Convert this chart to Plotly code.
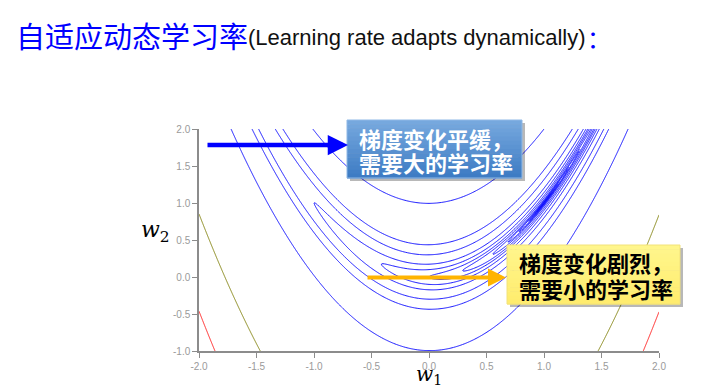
import numpy as np
import plotly.graph_objects as go

# ---------------- data ----------------
w1_range = [-2.0, 2.0]
w2_range = [-1.0, 2.0]
x_tick_vals = [-2.0, -1.5, -1.0, -0.5, 0.0, 0.5, 1.0, 1.5, 2.0]
x_tick_text = ["-2.0", "-1.5", "-1.0", "-0.5", "0.0", "0.5", "1.0", "1.5", "2.0"]
y_tick_vals = [-1.0, -0.5, 0.0, 0.5, 1.0, 1.5, 2.0]
y_tick_text = ["-1.0", "-0.5", "0.0", "0.5", "1.0", "1.5", "2.0"]
# contour levels of the loss surface and their colours
blue_levels = [0.002, 0.005, 0.01, 0.02, 0.05, 0.1, 0.2, 0.5, 1, 2, 4, 10, 20, 100]
olive_levels = [1000]
red_levels = [2000]
title_cn = "自适应动态学习率"
title_en = "(Learning rate adapts dynamically)"
note_flat = ["梯度变化平缓，", "需要大的学习率"]
note_steep = ["梯度变化剧烈，", "需要小的学习率"]


def loss(a, b):
    # Rosenbrock-shaped loss surface shown in the chart
    return (1 - a) ** 2 + 100 * (b - a ** 2) ** 2


xs = np.linspace(w1_range[0], w1_range[1], 501)
ys = np.linspace(w2_range[0], w2_range[1], 376)
XX, YY = np.meshgrid(xs, ys)
Z = loss(XX, YY)

W, H = 715, 387
OFF = 8  # page margin of the html body
# plot area in page pixels
PL, PT, PR, PB = 199, 129, 659, 351
PW, PH = PR - PL, PB - PT
ML, MT = PL - OFF, PT - OFF
MR, MB = W - (PR - OFF), H - (PB - OFF)


def px(x):
    return (x - PL) / PW


def py(y):
    return (PB - y) / PH


def dx(x):
    return w1_range[0] + (x - PL) / PW * (w1_range[1] - w1_range[0])


def dy(y):
    return w2_range[1] - (y - PT) / PH * (w2_range[1] - w2_range[0])


fig = go.Figure()

groups = [(blue_levels, "#1010ff"), (olive_levels, "#868614"), (red_levels, "#ff2020")]
for levels, col in groups:
    for lv in levels:
        fig.add_trace(go.Contour(
            x=xs, y=ys, z=Z,
            contours=dict(start=lv, end=lv, size=1, coloring="lines"),
            colorscale=[[0, col], [1, col]],
            line=dict(width=1),
            showscale=False, hoverinfo="skip",
        ))

shapes = []


def gradient_box(x0, y0, x1, y1, top, bot, n=14, border=None):
    shapes.append(dict(type="rect", xref="paper", yref="paper",
                       x0=px(x0 + 3), x1=px(x1 + 3), y0=py(y0 + 3), y1=py(y1 + 3),
                       fillcolor="rgba(0,0,0,0.28)", line=dict(width=0), layer="above"))
    for i in range(n):
        t = i / (n - 1)
        c = tuple(int(round(top[k] + (bot[k] - top[k]) * t)) for k in range(3))
        ya = y0 + (y1 - y0) * i / n
        yb = y0 + (y1 - y0) * (i + 1) / n
        shapes.append(dict(type="rect", xref="paper", yref="paper",
                           x0=px(x0), x1=px(x1), y0=py(ya), y1=py(yb + 0.5),
                           fillcolor="rgb(%d,%d,%d)" % c, line=dict(width=0), layer="above"))
    if border:
        shapes.append(dict(type="rect", xref="paper", yref="paper",
                           x0=px(x0), x1=px(x1), y0=py(y0), y1=py(y1),
                           line=dict(color=border, width=1), layer="above"))


gradient_box(347, 120, 522, 178, (118, 168, 222), (62, 124, 196), border="#8fb8e6")
gradient_box(507, 245, 680, 304, (255, 246, 140), (255, 236, 110), border="#f2e27a")

ann = []
# title
ann.append(dict(xref="paper", yref="paper", x=px(14), y=py(35), xanchor="left", yanchor="middle",
                text=title_cn, showarrow=False,
                font=dict(family="Noto Sans CJK SC", size=29, color="#0000ff")))
ann.append(dict(xref="paper", yref="paper", x=px(246), y=py(37), xanchor="left", yanchor="middle",
                text=title_en, showarrow=False,
                font=dict(family="Liberation Sans", size=22, color="#111111")))
ann.append(dict(xref="paper", yref="paper", x=px(585), y=py(37), xanchor="left", yanchor="middle",
                text="：", showarrow=False,
                font=dict(family="Noto Sans CJK SC", size=24, color="#0000ff")))
# box texts
for t, yy in zip(note_flat, [138, 162]):
    ann.append(dict(xref="paper", yref="paper", x=px(357), y=py(yy), xanchor="left", yanchor="middle",
                    text="<b>%s</b>" % t, showarrow=False,
                    font=dict(family="Noto Sans CJK SC", size=22, color="white")))
for t, yy in zip(note_steep, [262, 288]):
    ann.append(dict(xref="paper", yref="paper", x=px(517), y=py(yy), xanchor="left", yanchor="middle",
                    text="<b>%s</b>" % t, showarrow=False,
                    font=dict(family="Noto Sans CJK SC", size=22, color="black")))
# arrows
ann.append(dict(xref="x", yref="y", axref="x", ayref="y",
                x=dx(348), y=dy(145), ax=dx(206), ay=dy(145), text="", showarrow=True,
                arrowhead=2, arrowsize=0.9, arrowwidth=4.5, arrowcolor="#0000ff", standoff=0))
ann.append(dict(xref="x", yref="y", axref="x", ayref="y",
                x=dx(506), y=dy(277.5), ax=dx(366), ay=dy(277.5), text="", showarrow=True,
                arrowhead=2, arrowsize=0.9, arrowwidth=4, arrowcolor="#ffb400", standoff=0))
# axis titles
ann.append(dict(xref="paper", yref="paper", x=px(155), y=py(231), xanchor="center", yanchor="middle",
                text="<i>w</i><sub>2</sub>", showarrow=False,
                font=dict(family="DejaVu Serif", size=22, color="black")))
ann.append(dict(xref="paper", yref="paper", x=px(429), y=py(375), xanchor="center", yanchor="middle",
                text="<i>w</i><sub>1</sub>", showarrow=False,
                font=dict(family="DejaVu Serif", size=20, color="black")))

axis_common = dict(showgrid=False, zeroline=False, showline=True, linecolor="#8c8c8c", linewidth=1.5,
                   ticks="outside", ticklen=5, tickcolor="#8c8c8c", tickwidth=1,
                   tickfont=dict(family="Liberation Sans", size=10, color="#9a9a9a"))

fig.update_layout(
    width=W, height=H, margin=dict(l=ML, r=MR, t=MT, b=MB),
    paper_bgcolor="white", plot_bgcolor="white", showlegend=False,
    xaxis=dict(range=w1_range, tickvals=x_tick_vals, ticktext=x_tick_text, **axis_common),
    yaxis=dict(range=w2_range, tickvals=y_tick_vals, ticktext=y_tick_text, **axis_common),
    shapes=shapes, annotations=ann,
)

fig.write_html("out.html")
